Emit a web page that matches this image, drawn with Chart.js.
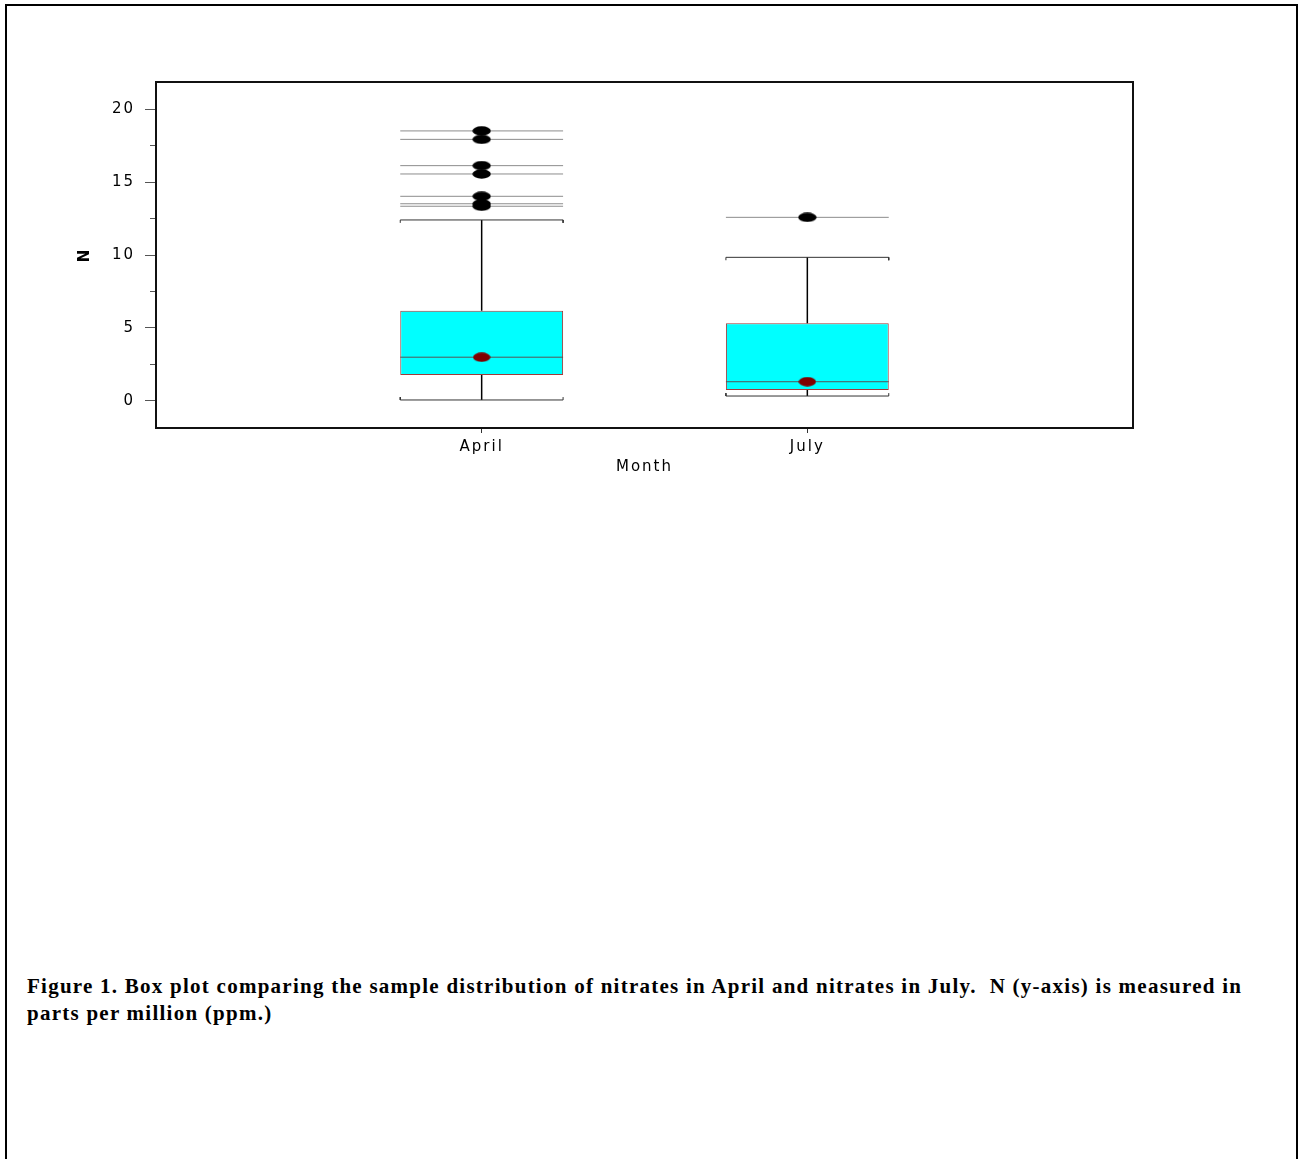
<!DOCTYPE html>
<html>
<head>
<meta charset="utf-8">
<script src="https://cdn.jsdelivr.net/npm/chart.js@4/dist/chart.umd.min.js"></script>
<style>
  html, body { margin: 0; padding: 0; background: #fff; overflow: hidden; }
  body { width: 1301px; height: 1159px; position: relative; }
  #page {
    position: absolute; left: 5px; top: 4px; width: 1289px; height: 1200px;
    border: 2px solid #000; box-sizing: content-box;
  }
  #plot { position: absolute; left: 0; top: 0; }
  #caption {
    position: absolute; left: 27px; top: 973px; width: 1260px;
    font-family: "Liberation Serif", "Times New Roman", serif;
    font-weight: bold; font-size: 21px; line-height: 27px; color: #000;
    letter-spacing: 1.25px; white-space: nowrap;
  }
</style>
</head>
<body>
<div id="page"></div>
<canvas id="plot" width="1301" height="500"></canvas>
<div id="caption">Figure 1. Box plot comparing the sample distribution of nitrates in April and nitrates in July.&nbsp; N (y-axis) is measured in<br>parts per million (ppm.)</div>
<script>
// Nitrate (N, ppm) summary per sampling month
const months = ['April', 'July'];
const lowerWhisker = [0.07, 0.34];
const q1 = [1.78, 0.75];
const median = [3.0, 1.32];
const q3 = [6.18, 5.32];
const upperWhisker = [12.4, 9.84];
const outliers = [
  [18.5, 17.92, 16.12, 15.55, 14.02, 13.51, 13.34],
  [12.58]
];
const yTickValues = [0, 2.5, 5, 7.5, 10, 12.5, 15, 17.5, 20];

// Box geometry in x-axis units (month i sits at x = i + 1)
const HALF = 0.25;
const CAP_TICK = 0.2;

function xOf(i) { return i + 1; }
const GAP = (x) => ({ x: x, y: null });

// Whisker stems and bracket-shaped caps
const whiskerPts = [];
const capPts = [];
months.forEach((m, i) => {
  const x = xOf(i);
  whiskerPts.push({ x, y: lowerWhisker[i] }, { x, y: q1[i] }, GAP(x));
  whiskerPts.push({ x, y: q3[i] }, { x, y: upperWhisker[i] }, GAP(x));
  capPts.push({ x: x - HALF, y: lowerWhisker[i] + CAP_TICK }, { x: x - HALF, y: lowerWhisker[i] },
              { x: x + HALF, y: lowerWhisker[i] }, { x: x + HALF, y: lowerWhisker[i] + CAP_TICK }, GAP(x));
  capPts.push({ x: x - HALF, y: upperWhisker[i] - CAP_TICK }, { x: x - HALF, y: upperWhisker[i] },
              { x: x + HALF, y: upperWhisker[i] }, { x: x + HALF, y: upperWhisker[i] - CAP_TICK }, GAP(x));
});

// Horizontal reference lines through each outlier and each median
const outlierLinePts = [];
const outlierDots = [];
outliers.forEach((vals, i) => {
  const x = xOf(i);
  vals.forEach(v => {
    outlierLinePts.push({ x: x - HALF, y: v }, { x: x + HALF, y: v }, GAP(x));
    outlierDots.push({ x, y: v });
  });
});
const medianLinePts = [];
const medianDots = [];
months.forEach((m, i) => {
  const x = xOf(i);
  medianLinePts.push({ x: x - HALF, y: median[i] }, { x: x + HALF, y: median[i] }, GAP(x));
  medianDots.push({ x, y: median[i] });
});
const boxData = months.map((m, i) => ({ x: xOf(i), y: [q1[i], q3[i]] }));

// Elliptical marker images
function ellipse(color, w, h) {
  const c = document.createElement('canvas');
  c.width = w; c.height = h;
  const g = c.getContext('2d');
  g.fillStyle = color;
  g.beginPath();
  g.ellipse(w / 2, h / 2, w / 2 - 0.3, h / 2 - 0.3, 0, 0, Math.PI * 2);
  g.fill();
  return c;
}
const blackDot = ellipse('#000000', 19, 10);
const redDot = ellipse('#7f0000', 18, 10);

const FONT = { family: 'DejaVu Sans', size: 15 };
const SPACING = '2px';

const framePlugin = {
  id: 'frame',
  beforeUpdate(chart) { chart.ctx.letterSpacing = SPACING; },
  beforeDraw(chart) { chart.ctx.letterSpacing = SPACING; },
  afterDraw(chart) {
    const { ctx, chartArea: a } = chart;
    ctx.save();
    ctx.strokeStyle = '#111';
    ctx.lineWidth = 2;
    ctx.strokeRect(a.left, a.top, a.right - a.left, a.bottom - a.top);
    ctx.restore();
  }
};

new Chart(document.getElementById('plot'), {
  type: 'bar',
  data: {
    datasets: [
      { type: 'scatter', data: outlierDots, pointStyle: blackDot, pointRadius: 6, order: 1 },
      { type: 'scatter', data: medianDots, pointStyle: redDot, pointRadius: 6, order: 1 },
      { type: 'line', data: outlierLinePts, borderColor: '#8c8c8c', borderWidth: 1, pointRadius: 0, spanGaps: false, fill: false, order: 2 },
      { type: 'line', data: medianLinePts, borderColor: '#555555', borderWidth: 1, pointRadius: 0, spanGaps: false, fill: false, order: 2 },
      { type: 'line', data: capPts, borderColor: '#333333', borderWidth: 1, pointRadius: 0, spanGaps: false, fill: false, order: 3 },
      { type: 'line', data: whiskerPts, borderColor: '#000000', borderWidth: 1.5, pointRadius: 0, spanGaps: false, fill: false, order: 3 },
      { type: 'bar', data: boxData, backgroundColor: '#00ffff', borderColor: '#a03a3a', borderWidth: 1,
        borderSkipped: false, barPercentage: 0.5, categoryPercentage: 1, order: 5 }
    ]
  },
  options: {
    responsive: false,
    animation: false,
    events: [],
    layout: { padding: { top: 82, right: 168, left: 70, bottom: 0 } },
    plugins: { legend: { display: false }, tooltip: { enabled: false } },
    scales: {
      x: {
        type: 'linear', min: 0, max: 3, offset: false,
        afterBuildTicks: (s) => { s.ticks = months.map((m, i) => ({ value: xOf(i) })); },
        afterFit: (s) => { s.height = 72; },
        ticks: { callback: (v) => months[v - 1] || '', color: '#000', font: FONT, padding: 5, maxRotation: 0, autoSkip: false },
        grid: { display: true, drawOnChartArea: false, offset: false, tickLength: 5, tickColor: '#333', tickWidth: 1 },
        border: { display: false },
        title: { display: true, text: 'Month', color: '#000', font: FONT, padding: { top: 0, bottom: 24 } }
      },
      y: {
        type: 'linear', min: -1.85, max: 21.85,
        afterBuildTicks: (s) => { s.ticks = yTickValues.map(v => ({ value: v })); },
        afterFit: (s) => { s.width = 86; },
        ticks: { callback: (v) => (v % 5 === 0 ? String(v) : ''), color: '#000', font: FONT, padding: 10, autoSkip: false },
        grid: {
          display: true, drawOnChartArea: false, tickLength: 11, tickColor: '#555', tickWidth: 1,
          tickBorderDash: (c) => (c.tick && c.tick.value % 5 !== 0 ? [0, 5, 6, 60] : [])
        },
        border: { display: false },
        title: { display: true, text: 'N', color: '#000', font: { family: 'DejaVu Sans', size: 15, weight: 'bold' }, padding: { top: 6, bottom: 0 } }
      }
    }
  },
  plugins: [framePlugin]
});
</script>
</body>
</html>
